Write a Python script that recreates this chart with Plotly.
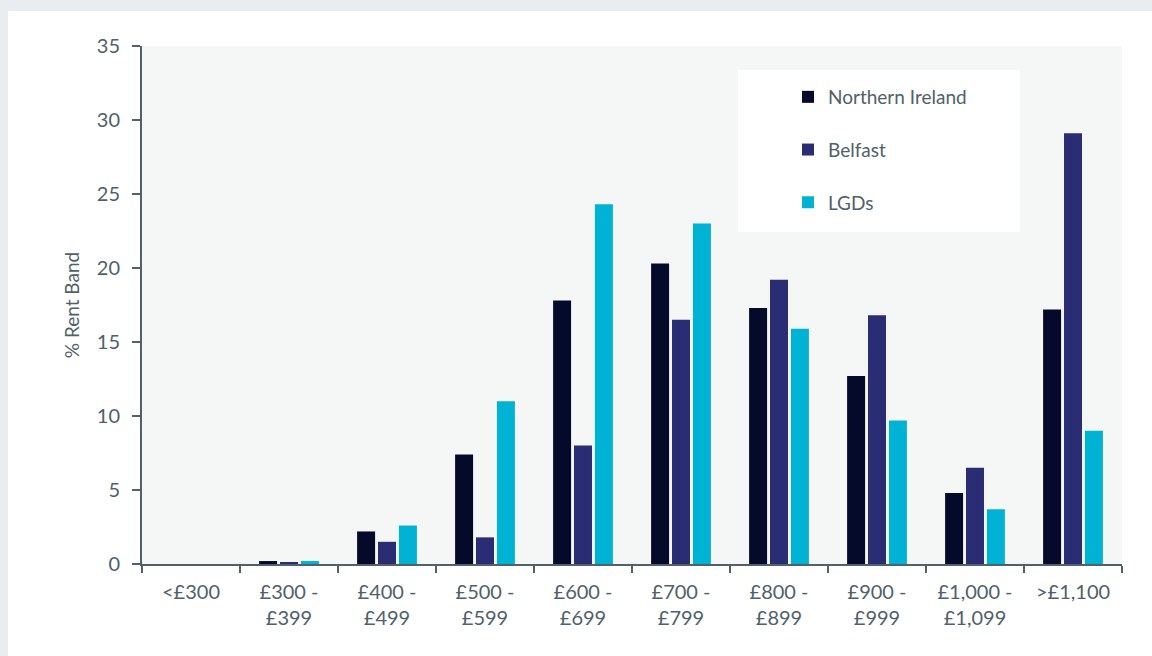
import plotly.graph_objects as go

categories = ["<£300", "£300 -<br>£399", "£400 -<br>£499", "£500 -<br>£599", "£600 -<br>£699",
              "£700 -<br>£799", "£800 -<br>£899", "£900 -<br>£999", "£1,000 -<br>£1,099", ">£1,100"]
northern_ireland = [0, 0.2, 2.2, 7.4, 17.8, 20.3, 17.3, 12.7, 4.8, 17.2]
belfast = [0, 0.1, 1.5, 1.8, 8.0, 16.5, 19.2, 16.8, 6.5, 29.1]
lgds = [0, 0.2, 2.6, 11.0, 24.3, 23.0, 15.9, 9.7, 3.7, 9.0]
y_ticks = [0, 5, 10, 15, 20, 25, 30, 35]

series = [("Northern Ireland", northern_ireland, "#060a2a"),
          ("Belfast", belfast, "#2a2c74"),
          ("LGDs", lgds, "#00b2d3")]

TXT = "#4f6169"
FONT = "Lato, 'Open Sans', sans-serif"

# plot area in pixels
L, R, T, B = 142, 1122, 46, 564
PW, PH = R - L, B - T

fig = go.Figure()
for i, (name, vals, col) in enumerate(series):
    fig.add_trace(go.Bar(x=categories, y=vals, name=name, legendgroup=f"g{i}",
                         marker=dict(color=col, line=dict(width=0))))

def px_x(x):
    return (x - L) / PW

def px_y(y):
    return (B - y) / PH

fig.update_layout(
    width=1152, height=656,
    margin=dict(l=L, r=1152 - R, t=T, b=656 - B),
    paper_bgcolor="white", plot_bgcolor="#f5f6f6",
    barmode="group", bargap=0.36, bargroupgap=0.14,
    font=dict(family=FONT, size=19, color=TXT),
    showlegend=True,
    legend=dict(x=px_x(788), y=px_y(78), xanchor="left", yanchor="top",
                bgcolor="rgba(0,0,0,0)", tracegroupgap=25,
                font=dict(size=19, color=TXT), itemwidth=30),
    shapes=[
        dict(type="rect", xref="paper", yref="paper", x0=px_x(0), x1=px_x(1152),
             y0=px_y(11), y1=px_y(0), fillcolor="#e9edf0", line=dict(width=0), layer="below"),
        dict(type="rect", xref="paper", yref="paper", x0=px_x(0), x1=px_x(8),
             y0=px_y(656), y1=px_y(0), fillcolor="#e9edf0", line=dict(width=0), layer="below"),
        dict(type="rect", xref="paper", yref="paper", x0=px_x(738), x1=px_x(1020),
             y0=px_y(232), y1=px_y(70), fillcolor="white", line=dict(width=0), layer="below"),
    ],
)

fig.update_xaxes(type="category", tickson="boundaries", ticks="outside", ticklen=7,
                 tickwidth=2, tickcolor=TXT, showline=True, linecolor=TXT, linewidth=2,
                 showgrid=False, tickfont=dict(size=20, color=TXT), ticklabelstandoff=9)
fig.update_yaxes(range=[0, 35], tickvals=y_ticks, ticks="outside", ticklen=8, tickwidth=2,
                 tickcolor=TXT, showline=True, linecolor=TXT, linewidth=2, showgrid=False,
                 zeroline=False, tickfont=dict(size=20, color=TXT), ticklabelstandoff=8,
                 title=dict(text="% Rent Band", font=dict(size=19, color=TXT), standoff=12))

fig.write_html("out.html", config={"displayModeBar": False},
               post_script="document.body.style.margin='0';document.body.style.overflow='hidden';")
